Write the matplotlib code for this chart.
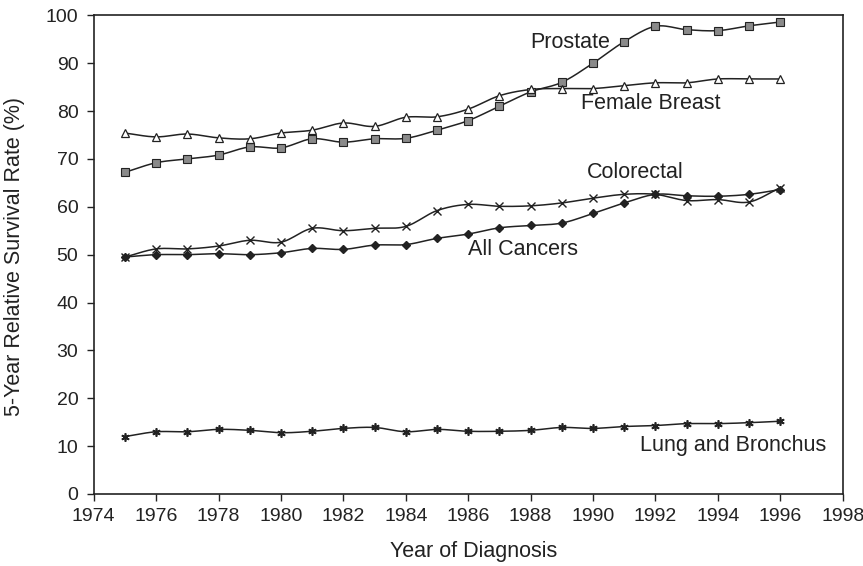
import numpy as np
import matplotlib
matplotlib.use("Agg")
import matplotlib.pyplot as plt

plt.rcParams['font.family'] = ['Liberation Sans', 'DejaVu Sans']

# === Data ===
years = list(range(1975, 1997))
prostate = [67.2, 69.2, 70.0, 70.8, 72.5, 72.3, 74.2, 73.5, 74.2, 74.3, 76.0,
            78.0, 81.0, 84.0, 86.0, 90.0, 94.5, 97.7, 97.0, 96.8, 97.8, 98.6]
female_breast = [75.4, 74.6, 75.2, 74.4, 74.2, 75.4, 76.0, 77.5, 76.8, 78.7, 78.8,
                 80.4, 83.2, 84.5, 84.7, 84.7, 85.3, 85.9, 85.9, 86.7, 86.7, 86.7]
colorectal = [49.5, 51.2, 51.2, 51.8, 53.0, 52.6, 55.5, 55.0, 55.5, 55.9, 59.2,
              60.5, 60.1, 60.2, 60.8, 61.8, 62.6, 62.6, 61.3, 61.5, 61.0, 64.0]
all_cancers = [49.5, 50.0, 50.0, 50.2, 50.0, 50.4, 51.3, 51.1, 52.0, 52.1, 53.4,
               54.3, 55.6, 56.1, 56.6, 58.6, 60.8, 62.6, 62.3, 62.2, 62.6, 63.6]
lung = [12.0, 13.0, 13.0, 13.5, 13.3, 12.8, 13.1, 13.7, 13.9, 13.0, 13.5,
        13.1, 13.1, 13.3, 13.9, 13.7, 14.1, 14.3, 14.7, 14.7, 14.9, 15.2]

labels = ["Prostate", "Female Breast", "Colorectal", "All Cancers", "Lung and Bronchus"]
label_pos = [(1988.0, 94.4), (1989.6, 81.6), (1989.8, 67.2), (1986.0, 51.1), (1991.5, 10.2)]


def smooth(x, y, n=12):
    """Catmull-Rom curve through the points (like Excel's smoothed line)."""
    x = np.asarray(x, float)
    y = np.asarray(y, float)
    px = np.concatenate([[2 * x[0] - x[1]], x, [2 * x[-1] - x[-2]]])
    py = np.concatenate([[2 * y[0] - y[1]], y, [2 * y[-1] - y[-2]]])
    xs, ys = [], []
    t = np.linspace(0, 1, n, endpoint=False)
    for i in range(1, len(px) - 2):
        for arr, out in ((px, xs), (py, ys)):
            p0, p1, p2, p3 = arr[i - 1], arr[i], arr[i + 1], arr[i + 2]
            out.extend(0.5 * ((2 * p1) + (-p0 + p2) * t
                              + (2 * p0 - 5 * p1 + 4 * p2 - p3) * t ** 2
                              + (-p0 + 3 * p1 - 3 * p2 + p3) * t ** 3))
    xs.append(x[-1])
    ys.append(y[-1])
    return xs, ys


W, H = 863, 566
fig = plt.figure(figsize=(W / 100, H / 100), dpi=100)
# axes box: left 93.7px, right 842.7px, top 15.3px, bottom 494px
ax = fig.add_axes([93.7 / W, 1 - 494 / H, (842.7 - 93.7) / W, (494 - 15.3) / H])

line_col = "#222222"
series = [
    (prostate, dict(marker='s', markersize=5.5, markerfacecolor='#8a8a8a', markeredgecolor='#222222', markeredgewidth=0.8)),
    (female_breast, dict(marker='^', markersize=6, markerfacecolor='white', markeredgecolor='#222222', markeredgewidth=0.9)),
    (colorectal, dict(marker='x', markersize=6, markeredgecolor='#222222', markeredgewidth=1.0)),
    (all_cancers, dict(marker='D', markersize=4.5, markerfacecolor='#222222', markeredgecolor='#222222')),
    (lung, dict(marker=(6, 2, 0), markersize=6, markeredgecolor='#222222', markeredgewidth=1.2)),
]

for vals, mstyle in series:
    sx, sy = smooth(years, vals)
    ax.plot(sx, sy, color=line_col, linewidth=1.1, zorder=2)
    ax.plot(years, vals, linestyle='none', zorder=3, **mstyle)

for text, (tx, ty) in zip(labels, label_pos):
    ax.text(tx, ty, text, fontsize=15.5, color='#222222', va='center', ha='left')

ax.set_xlim(1974, 1998)
ax.set_ylim(0, 100)
ax.set_xticks(range(1974, 1999, 2))
ax.set_yticks(range(0, 101, 10))
ax.tick_params(direction='out', length=5, width=1, labelsize=14, colors='#222222')
ax.tick_params(axis='x', pad=5)
ax.tick_params(axis='y', pad=6)
for s in ax.spines.values():
    s.set_color('#222222')
    s.set_linewidth(1.2)

fig.text(474 / W, 1 - 551 / H, "Year of Diagnosis", fontsize=15.5, color='#222222',
         ha='center', va='center')
fig.text(15 / W, 1 - 257 / H, "5-Year Relative Survival Rate (%)", fontsize=15.5,
         color='#222222', ha='center', va='center', rotation=90)

fig.savefig("out.png", dpi=100)
